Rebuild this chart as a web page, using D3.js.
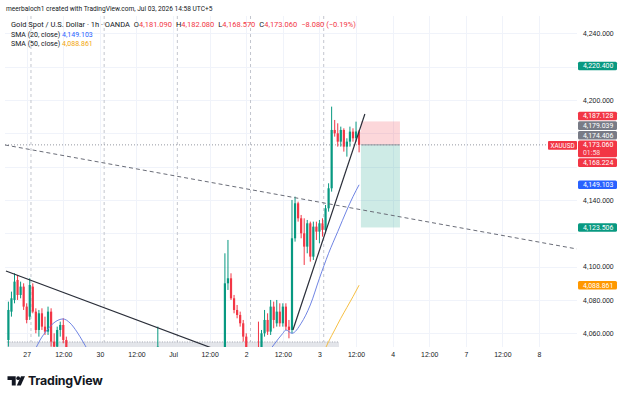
<!DOCTYPE html>
<html>
<head>
<meta charset="utf-8">
<title>XAUUSD 1h</title>
<script src="https://cdn.jsdelivr.net/npm/d3@7/dist/d3.min.js"></script>
<style>
  body { margin: 0; background: #ffffff; }
  #chart svg { display: block; font-family: Roboto, "Liberation Sans", Arial, sans-serif; }
  .axis text { fill: #131722; font-size: 6.9px; }
  .axis .domain { display: none; }
  .grid line { stroke: #f0f3fa; stroke-width: 1; shape-rendering: crispEdges; }
  .legend { font-size: 7.5px; fill: #131722; }
  .legend.small { font-size: 6.6px; }
  .legend.sma { font-size: 7px; }
  .tag text { fill: #ffffff; font-size: 6.9px; }
</style>
</head>
<body>
<div id="chart"></div>
<script>
// Bar index 0 is the "27" midnight; the first candle is 6 hours earlier.
var firstBar = -6;

// Hourly candles, [open, high, low, close]
var candles = [
  [4056, 4079, 4052, 4074], [4073, 4085, 4070, 4081], [4080, 4096, 4078, 4091],
  [4092, 4095, 4080, 4083], [4083, 4091, 4081, 4088], [4088, 4090, 4074, 4076],
  [4076, 4078, 4066, 4068], [4070, 4093, 4068, 4089], [4088, 4090, 4072, 4073],
  [4073, 4075, 4060, 4062], [4062, 4074, 4058, 4072], [4072, 4075, 4062, 4064],
  [4064, 4070, 4059, 4061], [4061, 4076, 4059, 4073], [4073, 4075, 4052, 4055],
  [4055, 4060, 4049, 4052], [4052, 4064, 4050, 4062], [4062, 4067, 4058, 4065],
  [4065, 4069, 4054, 4056], [4056, 4058, 4042, 4045], [4045, 4049, 4030, 4034],
  [4034, 4040, 4022, 4026], [4026, 4032, 4015, 4020], [4020, 4028, 4012, 4024],
  [4024, 4030, 4016, 4018], [4018, 4025, 4008, 4012], [4012, 4020, 4005, 4016],
  [4016, 4024, 4010, 4021], [4021, 4027, 4014, 4017], [4017, 4022, 4006, 4009],
  [4009, 4015, 4000, 4004], [4004, 4012, 3998, 4010], [4010, 4018, 4006, 4015],
  [4015, 4021, 4009, 4012], [4012, 4016, 4002, 4006], [4006, 4013, 4001, 4011],
  [4011, 4020, 4008, 4018], [4018, 4026, 4014, 4023], [4023, 4030, 4019, 4027],
  [4027, 4033, 4020, 4024], [4024, 4029, 4016, 4020], [4020, 4027, 4015, 4025],
  [4025, 4034, 4021, 4031], [4031, 4038, 4026, 4029], [4029, 4035, 4022, 4027],
  [4027, 4036, 4024, 4033], [4033, 4041, 4029, 4037], [4037, 4043, 4031, 4034],
  [4034, 4040, 4028, 4038], [4038, 4064, 4035, 4052], [4049, 4050, 4035, 4039],
  [4039, 4044, 4028, 4031], [4031, 4037, 4022, 4026], [4026, 4033, 4019, 4029],
  [4029, 4035, 4020, 4023], [4023, 4028, 4011, 4015], [4015, 4021, 4004, 4008],
  [4008, 4014, 3998, 4003], [4003, 4010, 3994, 4006], [4006, 4012, 3999, 4002],
  [4002, 4008, 3990, 3994], [3994, 4002, 3986, 3998], [3998, 4005, 3990, 3993],
  [3993, 3999, 3982, 3987], [3987, 3996, 3981, 3992], [3992, 4000, 3986, 3996],
  [3996, 4003, 3988, 3991], [3991, 3998, 3980, 3985], [3985, 3994, 3978, 3990],
  [3990, 4002, 3984, 3998], [3998, 4010, 3992, 4006], [4006, 4108, 4003, 4090],
  [4090, 4116, 4086, 4093], [4093, 4096, 4080, 4081], [4081, 4083, 4072, 4074],
  [4074, 4077, 4069, 4071], [4071, 4073, 4064, 4066], [4066, 4068, 4055, 4058],
  [4058, 4060, 4042, 4046], [4046, 4049, 4030, 4036], [4036, 4045, 4028, 4041],
  [4041, 4048, 4033, 4044], [4044, 4067, 4038, 4042], [4042, 4062, 4040, 4060],
  [4060, 4074, 4058, 4068], [4068, 4072, 4059, 4061], [4061, 4080, 4059, 4076],
  [4076, 4079, 4063, 4068], [4066, 4080, 4064, 4073], [4073, 4078, 4064, 4066],
  [4066, 4078, 4064, 4076], [4076, 4078, 4062, 4064], [4064, 4068, 4057, 4062],
  [4062, 4140, 4060, 4117], [4117, 4142, 4115, 4138], [4138, 4139, 4127, 4129],
  [4129, 4131, 4117, 4120], [4120, 4129, 4101, 4112], [4112, 4128, 4108, 4126],
  [4126, 4127, 4103, 4106], [4106, 4127, 4104, 4124], [4124, 4127, 4116, 4121],
  [4121, 4128, 4114, 4126], [4126, 4129, 4118, 4122], [4122, 4137, 4120, 4135],
  [4135, 4150, 4133, 4147], [4147, 4196, 4145, 4182], [4182, 4188, 4178, 4180],
  [4180, 4186, 4172, 4175], [4175, 4184, 4172, 4182], [4182, 4183, 4169, 4172],
  [4172, 4177, 4166, 4175], [4175, 4184, 4172, 4181], [4181, 4183, 4175, 4177],
  [4177, 4187, 4175, 4181.09], [4181.09, 4182.08, 4168.57, 4173.06]
];

// SMA readings, [bar, value]
var sma20Early = [[0, 4040], [2.7, 4050], [4.4, 4056], [6.7, 4062], [9.3, 4066.8],
  [11.9, 4068.6], [14.2, 4066.2], [16.5, 4060.8], [18.5, 4054.8], [19.8, 4050.6], [22, 4042]];
var sma20Late = [[76, 4038], [79, 4048], [81, 4053], [84, 4060], [85, 4062], [87, 4060],
  [90, 4066], [93, 4077], [96, 4093], [99, 4108], [102, 4121], [105, 4134], [107, 4142], [109, 4149.103]];
var sma50 = [[95, 4038], [97, 4047], [99, 4055], [101, 4062], [103, 4069], [105, 4075.5],
  [107, 4082], [109, 4088.861]];

// Time axis
var timeTicks = [0, 12, 24, 36, 48, 60, 72, 84, 96, 108, 120, 132, 144, 156, 168];
var timeLabels = ["27", "12:00", "30", "12:00", "Jul", "12:00", "2", "12:00", "3",
  "12:00", "4", "12:00", "7", "12:00", "8"];
var sessionBreaks = [1.4, 25.4, 49.4, 73.4, 97.4];

// Price axis
var priceTicks = [4060, 4080, 4100, 4120, 4140, 4160, 4180, 4200, 4220, 4240];

// Drawings, in [bar, price]
var dashedTrend = [[-7.1, 4173], [180.4, 4110.6]];
var solidTrends = [
  [[-6.8, 4097.4], [63, 4049.6]],
  [[87.3, 4062], [110.9, 4191.6]]
];
var shadedBand = { from: -6.5, to: 102.4, top: 4054.8, bottom: 4000 };
var shortPosition = { from: 109.6, to: 122.4, entry: 4173.06, stop: 4187.128, target: 4123.506 };

// Price scale tags: [value, kind]
var tags = [
  [4220.4, "green"], [4187.128, "red"], [4179.039, "gray"], [4174.406, "gray"],
  [4173.06, "last"], [4168.224, "red"], [4149.103, "blue"], [4123.506, "green"],
  [4088.861, "orange"]
];
var countdown = "01:58";
var symbol = "XAUUSD";

var header = "meerbaloch1 created with TradingView.com, Jul 03, 2026 14:58 UTC+5";
var title = "Gold Spot / U.S. Dollar · 1h · OANDA";
var ohlcText = [["O", "4,181.090"], ["H", "4,182.080"], ["L", "4,168.570"], ["C", "4,173.060"]];
var changeText = "−8.080 (−0.19%)";
var smaLegend = [["SMA (20, close)", "4,149.103"], ["SMA (50, close)", "4,088.861"]];

var COLORS = {
  up: "#089981", down: "#f23645", green: "#089981", red: "#f23645", last: "#f23645",
  gray: "#787b86", blue: "#2962ff", orange: "#ff9800"
};

var render = function() {
  var width = 625, height = 398;
  var plot = { left: 5, right: 577, top: 16, bottom: 347 };

  var svg = d3.select("#chart").html("")
    .append("svg")
    .attr("width", width)
    .attr("height", height);

  svg.append("rect").attr("width", width).attr("height", height).attr("fill", "#fff");

  var xScale = d3.scaleLinear().domain([0, 168]).range([26.7, 539]);
  var yScale = d3.scaleLinear().domain([4060, 4240]).range([333.3, 33.3]);

  svg.append("defs").append("clipPath").attr("id", "plot-clip")
    .append("rect")
    .attr("x", plot.left).attr("y", plot.top)
    .attr("width", plot.right - plot.left).attr("height", plot.bottom - plot.top);

  // Grid
  var grid = svg.append("g").attr("class", "grid");
  grid.selectAll(".v").data(timeTicks).enter().append("line")
    .attr("x1", d => Math.round(xScale(d)) + 0.5).attr("x2", d => Math.round(xScale(d)) + 0.5)
    .attr("y1", plot.top).attr("y2", plot.bottom);
  grid.selectAll(".h").data(priceTicks).enter().append("line")
    .attr("x1", plot.left).attr("x2", plot.right)
    .attr("y1", d => Math.round(yScale(d)) + 0.5).attr("y2", d => Math.round(yScale(d)) + 0.5);

  var chart = svg.append("g").attr("clip-path", "url(#plot-clip)");

  // Session breaks
  chart.append("g").selectAll("line").data(sessionBreaks).enter().append("line")
    .attr("x1", d => xScale(d)).attr("x2", d => xScale(d))
    .attr("y1", plot.top).attr("y2", plot.bottom)
    .attr("stroke", "#c3c6ce").attr("stroke-dasharray", "3,3");

  // Shaded band at the bottom
  chart.append("rect")
    .attr("x", xScale(shadedBand.from))
    .attr("y", yScale(shadedBand.top))
    .attr("width", xScale(shadedBand.to) - xScale(shadedBand.from))
    .attr("height", yScale(shadedBand.bottom) - yScale(shadedBand.top))
    .attr("fill", "#e3e5ea");
  chart.append("line")
    .attr("x1", xScale(shadedBand.from)).attr("x2", xScale(shadedBand.to))
    .attr("y1", yScale(shadedBand.top)).attr("y2", yScale(shadedBand.top))
    .attr("stroke", "#a3a6af").attr("stroke-dasharray", "1,1.5");

  // Short position box
  var px0 = xScale(shortPosition.from), px1 = xScale(shortPosition.to);
  chart.append("rect")
    .attr("x", px0).attr("width", px1 - px0)
    .attr("y", yScale(shortPosition.stop))
    .attr("height", yScale(shortPosition.entry) - yScale(shortPosition.stop))
    .attr("fill", "rgba(242,54,69,0.2)");
  chart.append("rect")
    .attr("x", px0).attr("width", px1 - px0)
    .attr("y", yScale(shortPosition.entry))
    .attr("height", yScale(shortPosition.target) - yScale(shortPosition.entry))
    .attr("fill", "rgba(8,153,129,0.2)");

  // Last price line
  chart.append("line")
    .attr("x1", plot.left).attr("x2", plot.right)
    .attr("y1", yScale(4173.06)).attr("y2", yScale(4173.06))
    .attr("stroke", "#9598a1").attr("stroke-dasharray", "1,2");
  chart.append("line")
    .attr("x1", px0).attr("x2", px1)
    .attr("y1", yScale(shortPosition.entry)).attr("y2", yScale(shortPosition.entry))
    .attr("stroke", "#9598a1").attr("stroke-width", 1);

  // Candles
  var bars = chart.append("g").attr("class", "candles")
    .selectAll("g").data(candles).enter().append("g");
  bars.append("line")
    .attr("x1", (d, i) => xScale(firstBar + i)).attr("x2", (d, i) => xScale(firstBar + i))
    .attr("y1", d => yScale(d[1])).attr("y2", d => yScale(d[2]))
    .attr("stroke", d => d[3] >= d[0] ? COLORS.up : COLORS.down);
  bars.append("rect")
    .attr("x", (d, i) => xScale(firstBar + i) - 1.1)
    .attr("width", 2.2)
    .attr("y", d => yScale(Math.max(d[0], d[3])))
    .attr("height", d => Math.max(1, Math.abs(yScale(d[0]) - yScale(d[3]))))
    .attr("fill", d => d[3] >= d[0] ? COLORS.up : COLORS.down);

  // Moving averages
  var line = d3.line().x(d => xScale(d[0])).y(d => yScale(d[1])).curve(d3.curveMonotoneX);
  [sma20Early, sma20Late].forEach(function(s) {
    chart.append("path").attr("d", line(s))
      .attr("fill", "none").attr("stroke", "#5f76e0").attr("stroke-width", 0.9);
  });
  chart.append("path").attr("d", line(sma50))
    .attr("fill", "none").attr("stroke", "#f5b82e").attr("stroke-width", 0.9);

  // Trend lines
  chart.append("line")
    .attr("x1", xScale(dashedTrend[0][0])).attr("y1", yScale(dashedTrend[0][1]))
    .attr("x2", xScale(dashedTrend[1][0])).attr("y2", yScale(dashedTrend[1][1]))
    .attr("stroke", "#6a6d78").attr("stroke-width", 1).attr("stroke-dasharray", "4,3");
  chart.append("g").selectAll("line").data(solidTrends).enter().append("line")
    .attr("x1", d => xScale(d[0][0])).attr("y1", d => yScale(d[0][1]))
    .attr("x2", d => xScale(d[1][0])).attr("y2", d => yScale(d[1][1]))
    .attr("stroke", "#2a2e39").attr("stroke-width", 1.2);

  // Time axis
  var xAxis = d3.axisBottom(xScale)
    .tickValues(timeTicks)
    .tickFormat((d, i) => timeLabels[i])
    .tickSize(0)
    .tickPadding(5);
  svg.append("g").attr("class", "axis x")
    .attr("transform", "translate(0," + plot.bottom + ")")
    .call(xAxis);

  // Price tags, stacked around the last price tag
  var tagH = 8.6, lastH = 16.8, gap = 1;
  var items = tags.map(t => {
    var h = t[1] === "last" ? lastH : tagH;
    return { value: t[0], kind: t[1], h: h, top: yScale(t[0]) - tagH / 2 };
  });
  var a = items.findIndex(t => t.kind === "last");
  for (var k = a - 1; k >= 0; k--) {
    var limit = items[k + 1].top - gap;
    if (items[k].top + items[k].h > limit) items[k].top = limit - items[k].h;
  }
  for (var k2 = a + 1; k2 < items.length; k2++) {
    var prevBottom = items[k2 - 1].top + items[k2 - 1].h + gap;
    if (items[k2].top < prevBottom) items[k2].top = prevBottom;
  }

  // Price axis: labels covered by a tag are left out, as on the scale
  var freeTicks = priceTicks.filter(function(p) {
    var y = yScale(p);
    return !items.some(t => y + 3.5 > t.top && y - 3.5 < t.top + t.h);
  });
  var yAxis = d3.axisRight(yScale)
    .tickValues(freeTicks)
    .tickFormat(d3.format(",.3f"))
    .tickSize(0)
    .tickPadding(0);
  svg.append("g").attr("class", "axis y")
    .attr("transform", "translate(583,0)")
    .call(yAxis);

  var tagG = svg.append("g").attr("class", "tag")
    .selectAll("g").data(items).enter().append("g");
  tagG.append("rect")
    .attr("x", 578).attr("width", 39)
    .attr("y", d => d.top).attr("height", d => d.h)
    .attr("rx", 1.5)
    .attr("fill", d => COLORS[d.kind]);
  tagG.append("text")
    .attr("x", 583)
    .attr("y", d => d.top + tagH / 2)
    .attr("dy", "0.34em")
    .text(d => d3.format(",.3f")(d.value));
  tagG.filter(d => d.kind === "last").append("text")
    .attr("x", 583)
    .attr("y", d => d.top + tagH / 2 + 8)
    .attr("dy", "0.34em")
    .attr("fill-opacity", 0.85)
    .text(countdown);

  var last = items[a];
  var sym = svg.append("g").attr("class", "tag");
  sym.append("rect")
    .attr("x", 548).attr("width", 29)
    .attr("y", last.top + 0.5).attr("height", tagH)
    .attr("rx", 1)
    .attr("fill", COLORS.last);
  sym.append("text")
    .attr("x", 562.5).attr("y", last.top + 0.5 + tagH / 2)
    .attr("dy", "0.34em").attr("text-anchor", "middle")
    .style("font-size", "6.3px")
    .text(symbol);

  // Legend
  svg.append("text").attr("class", "legend small")
    .attr("x", 6).attr("y", 10.6)
    .text(header);

  var t2 = svg.append("text").attr("class", "legend")
    .attr("x", 11).attr("y", 27);
  t2.append("tspan").text(title);
  ohlcText.forEach(function(p, i) {
    t2.append("tspan").attr("dx", 4).text(p[0]);
    t2.append("tspan").attr("fill", COLORS.red).text(p[1]);
  });
  t2.append("tspan").attr("dx", 4).attr("fill", COLORS.red).text(changeText);

  smaLegend.forEach(function(s, i) {
    var t = svg.append("text").attr("class", "legend sma")
      .attr("x", 11).attr("y", 36.6 + i * 9.7);
    t.append("tspan").text(s[0]);
    t.append("tspan").attr("x", 62).attr("fill", i === 0 ? COLORS.blue : "#f2a60c").text(s[1]);
  });

  // TradingView logo
  var logo = svg.append("g").attr("fill", "#131722");
  logo.append("path").attr("d", "M7.5,376.3 H15.7 V385.6 H11.8 V379.9 H7.5 Z");
  logo.append("circle").attr("cx", 18.2).attr("cy", 378.2).attr("r", 1.9);
  logo.append("path").attr("d", "M21,376.3 H25 L20.8,385.6 H16.8 Z");
  logo.append("text")
    .attr("x", 28).attr("y", 385.4)
    .style("font-family", "Inter, 'Open Sans', sans-serif")
    .style("font-weight", 700)
    .style("font-size", "12.4px")
    .style("letter-spacing", "-0.2px")
    .text("TradingView");
};

window.onload = render;
</script>
</body>
</html>
